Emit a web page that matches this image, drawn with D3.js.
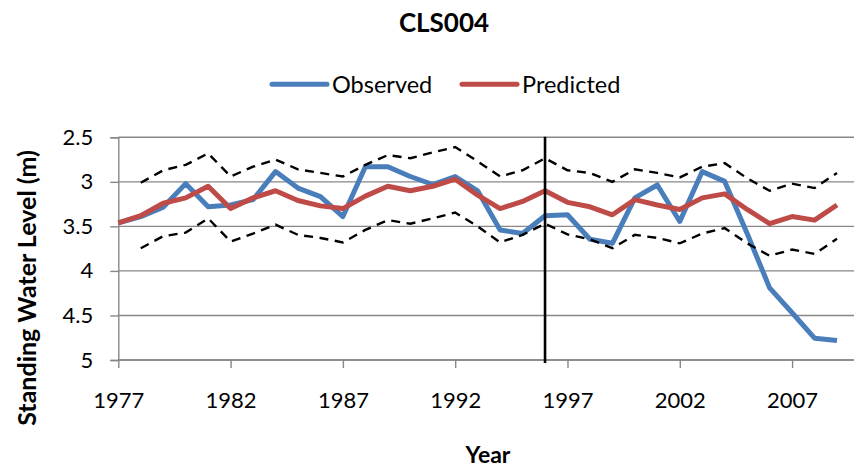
<!DOCTYPE html>
<html>
<head>
<meta charset="utf-8">
<script src="https://cdn.jsdelivr.net/npm/d3@7"></script>
<style>
  html, body { margin: 0; padding: 0; background: #fff; }
  svg { display: block; font-family: Lato, "Open Sans", sans-serif; }
</style>
</head>
<body>
<svg id="chart" width="854" height="470"></svg>
<script>
// Standing water level at bore CLS004, observed vs model prediction
const years = d3.range(1977, 2010);

const observed = [
  3.46, 3.39, 3.285, 3.02, 3.28, 3.26, 3.20, 2.885, 3.07, 3.165,
  3.39, 2.83, 2.83, 2.94, 3.03, 2.94, 3.10, 3.54, 3.58, 3.38,
  3.37, 3.645, 3.69, 3.18, 3.035, 3.445, 2.885, 2.995, 3.58, 4.19,
  4.47, 4.755, 4.78
];

const predicted = [
  3.46, 3.38, 3.24, 3.18, 3.05, 3.30, 3.18, 3.10, 3.21, 3.27,
  3.30, 3.16, 3.05, 3.10, 3.05, 2.97, 3.15, 3.30, 3.22, 3.10,
  3.23, 3.28, 3.37, 3.20, 3.26, 3.31, 3.18, 3.135, 3.31, 3.47,
  3.39, 3.43, 3.26
];

// Prediction band (no band value for the first year)
const upperBound = [
  null, 3.01, 2.87, 2.81, 2.68, 2.94, 2.83, 2.75, 2.86, 2.90,
  2.94, 2.81, 2.70, 2.735, 2.67, 2.61, 2.77, 2.94, 2.87, 2.735,
  2.87, 2.90, 3.00, 2.86, 2.90, 2.95, 2.83, 2.79, 2.96, 3.10,
  3.02, 3.07, 2.90
];

const lowerBound = [
  null, 3.745, 3.61, 3.57, 3.41, 3.67, 3.58, 3.48, 3.595, 3.63,
  3.68, 3.54, 3.43, 3.47, 3.41, 3.345, 3.50, 3.68, 3.595, 3.47,
  3.59, 3.645, 3.745, 3.595, 3.63, 3.69, 3.58, 3.52, 3.69, 3.83,
  3.76, 3.81, 3.64
];

const xTickYears = [1977, 1982, 1987, 1992, 1997, 2002, 2007];
const yTicks = [2.5, 3, 3.5, 4, 4.5, 5];
const calibrationSplitYear = 1996;

const seriesInfo = [
  { name: "Observed", values: observed, color: "#4A7EBB" },
  { name: "Predicted", values: predicted, color: "#BE4B48" }
];

const svg = d3.select("#chart");
const plotLeft = 118.3, plotRight = 854, plotTop = 137.3, plotBottom = 360;

const x = d3.scaleLinear().domain([1977, 2009]).range([plotLeft, 837]);
const y = d3.scaleLinear().domain([2.5, 5]).range([plotTop, plotBottom]);

const gridColor = "#878787";

// horizontal gridlines
svg.append("g")
  .selectAll("line")
  .data(yTicks)
  .join("line")
  .attr("x1", plotLeft).attr("x2", plotRight)
  .attr("y1", d => y(d)).attr("y2", d => y(d))
  .attr("stroke", gridColor).attr("stroke-width", 1.4);

// y axis
const yAxis = svg.append("g")
  .attr("transform", `translate(${plotLeft},0)`)
  .call(d3.axisLeft(y).tickValues(yTicks).tickSize(8).tickPadding(17).tickFormat(d3.format("")));
yAxis.select(".domain").attr("stroke", gridColor).attr("stroke-width", 1.4);
yAxis.selectAll(".tick line").attr("stroke", gridColor).attr("stroke-width", 1.4);
yAxis.selectAll(".tick text")
  .attr("font-size", 22).attr("fill", "#000")
  .attr("font-family", "Lato, sans-serif");

// x axis
const xAxis = svg.append("g")
  .attr("transform", `translate(0,${plotBottom})`)
  .call(d3.axisBottom(x).tickValues(xTickYears).tickSize(8).tickPadding(24).tickFormat(d3.format("d")));
xAxis.select(".domain").remove();
xAxis.append("line")
  .attr("x1", plotLeft).attr("x2", plotRight)
  .attr("stroke", gridColor).attr("stroke-width", 1.4);
xAxis.selectAll(".tick line").attr("stroke", gridColor).attr("stroke-width", 1.4);
xAxis.selectAll(".tick text")
  .attr("font-size", 22).attr("fill", "#000")
  .attr("font-family", "Lato, sans-serif");

const line = d3.line()
  .defined(d => d.v != null)
  .x(d => x(d.year))
  .y(d => y(d.v));

const toPoints = arr => years.map((yr, i) => ({ year: yr, v: arr[i] }));

// observed and predicted series
seriesInfo.forEach(s => {
  svg.append("path")
    .datum(toPoints(s.values))
    .attr("fill", "none")
    .attr("stroke", s.color)
    .attr("stroke-width", 5)
    .attr("stroke-linejoin", "round")
    .attr("d", line);
});

// prediction band bounds
[upperBound, lowerBound].forEach(arr => {
  svg.append("path")
    .datum(toPoints(arr))
    .attr("fill", "none")
    .attr("stroke", "#000")
    .attr("stroke-width", 2.4)
    .attr("stroke-dasharray", "9,6.5")
    .attr("d", line);
});

// calibration / validation split
svg.append("line")
  .attr("x1", x(calibrationSplitYear)).attr("x2", x(calibrationSplitYear))
  .attr("y1", plotTop - 0.5).attr("y2", plotBottom + 3)
  .attr("stroke", "#000").attr("stroke-width", 2.6);

// title
svg.append("text")
  .attr("x", 444).attr("y", 31.5)
  .attr("text-anchor", "middle")
  .attr("font-size", 26).attr("font-weight", "bold")
  .text("CLS004");

// legend
const legendItems = [
  { name: "Observed", color: seriesInfo[0].color, x0: 272 },
  { name: "Predicted", color: seriesInfo[1].color, x0: 462 }
];
const legend = svg.append("g");
legendItems.forEach(item => {
  legend.append("line")
    .attr("x1", item.x0).attr("x2", item.x0 + 55)
    .attr("y1", 84.3).attr("y2", 84.3)
    .attr("stroke", item.color).attr("stroke-width", 5)
    .attr("stroke-linecap", "round");
  legend.append("text")
    .attr("x", item.x0 + 60).attr("y", 92.5)
    .attr("font-size", 23.5)
    .text(item.name);
});

// axis titles
svg.append("text")
  .attr("x", 488).attr("y", 463)
  .attr("text-anchor", "middle")
  .attr("font-size", 23).attr("font-weight", "bold")
  .text("Year");

svg.append("text")
  .attr("transform", "translate(36,288) rotate(-90)")
  .attr("text-anchor", "middle")
  .attr("font-size", 25).attr("font-weight", "bold")
  .text("Standing Water Level (m)");
</script>
</body>
</html>
